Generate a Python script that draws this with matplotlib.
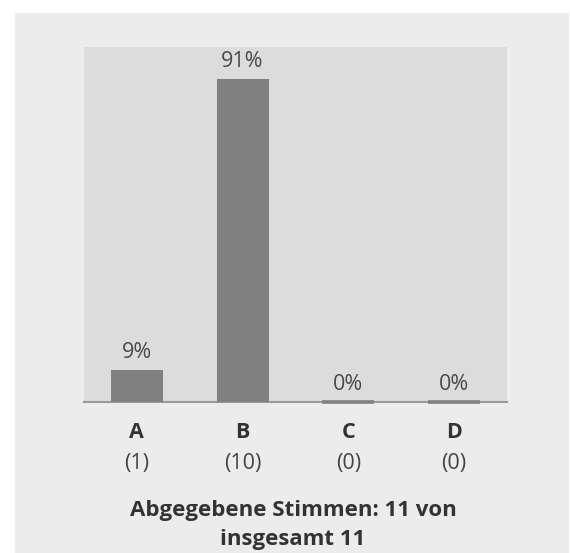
import matplotlib
matplotlib.use("Agg")
import matplotlib.pyplot as plt
from matplotlib.patches import Rectangle
from matplotlib.transforms import blended_transform_factory

# Poll results
options = ["A", "B", "C", "D"]
votes = [1, 10, 0, 0]
percents = [9, 91, 0, 0]
title_text = "Abgegebene Stimmen: 11 von\ninsgesamt 11"

plt.rcParams["font.family"] = ["Open Sans", "DejaVu Sans"]

W, H = 570, 553
fig = plt.figure(figsize=(W / 100, H / 100), dpi=100)
fig.patch.set_facecolor("white")

# Light card behind the chart
fig.patches.append(Rectangle((15 / W, 0), (569 - 15) / W, (553 - 13) / H,
                             transform=fig.transFigure, facecolor="#ececec",
                             edgecolor="none", zorder=-5))

ax = fig.add_axes([84 / W, (H - 402) / H, (507 - 84) / W, (402 - 47) / H])
ax.set_zorder(1)
ax.set_facecolor("#dcdcdc")

for side in ["top", "right", "left"]:
    ax.spines[side].set_visible(False)
ax.spines["bottom"].set_color("#9a9a9a")
ax.spines["bottom"].set_linewidth(1.5)
ax.set_yticks([])
ax.set_xticks([])

# Empty options still get a thin bar outline so they remain visible
x = list(range(len(options)))
edge_widths = [0 if p else 2.6 for p in percents]
bars = ax.bar(x, percents, width=0.49, color="#808080", edgecolor="#808080",
              linewidth=edge_widths, zorder=3, clip_on=False)
ax.set_xlim(-0.5, len(options) - 0.5)
ax.set_ylim(0, 100)

for xi, p in zip(x, percents):
    ax.annotate(f"{p}%", (xi, p), xytext=(0, 5), textcoords="offset points",
                ha="center", va="bottom", fontsize=15.5, color="#4a4a4a")

trans = blended_transform_factory(ax.transData, fig.transFigure)
for xi, opt, v in zip(x, options, votes):
    ax.text(xi, 1 - 432 / H, opt, transform=trans, ha="center", va="center",
            fontsize=15.5, fontweight="bold", color="#333333")
    ax.text(xi, 1 - 464 / H, f"({v})", transform=trans, ha="center",
            va="center", fontsize=15.5, color="#444444")

fig.text(293 / W, 1 - 525 / H, title_text, ha="center", va="center",
         fontsize=16, fontweight="bold", color="#333333", linespacing=1.55)

fig.savefig("out.png", dpi=100, facecolor=fig.get_facecolor())
